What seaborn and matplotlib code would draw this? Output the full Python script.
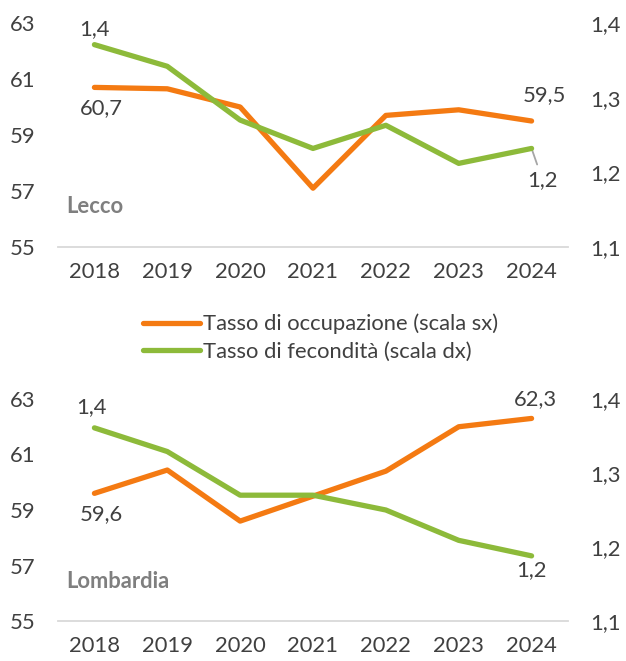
import numpy as np
import pandas as pd
import matplotlib
matplotlib.use("Agg")
import matplotlib.pyplot as plt
import seaborn as sns
from matplotlib.ticker import FuncFormatter, FixedLocator

# dati
anni = [2018, 2019, 2020, 2021, 2022, 2023, 2024]
occ_lecco = [60.7, 60.65, 60.0, 57.1, 59.7, 59.9, 59.5]
fec_lecco = [1.371, 1.342, 1.270, 1.232, 1.263, 1.212, 1.232]
occ_lomb = [59.6, 60.44, 58.6, 59.5, 60.4, 62.0, 62.3]
fec_lomb = [1.361, 1.329, 1.270, 1.270, 1.250, 1.209, 1.188]
etichette_sx = [55, 57, 59, 61, 63]
etichette_dx = [1.1, 1.2, 1.3, 1.4]
nomi_serie = ["Tasso di occupazione (scala sx)", "Tasso di fecondità (scala dx)"]

ARANCIO = "#F47A12"
VERDE = "#8DBA3A"
TESTO = "#404040"
GRIGIO_ASSE = "#D9D9D9"
FS = 15.8

sns.set_style("white")
plt.rcParams['font.family'] = ['Lato', 'DejaVu Sans']

fig = plt.figure(figsize=(6.26, 6.61), dpi=100)
W, H = 626, 661


def virgola(v, pos=None):
    if float(v).is_integer():
        return f"{int(v)}"
    return f"{v:.1f}".replace(".", ",")


def pannello(top_px, bot_px, occ, fec, nome, note):
    ax = fig.add_axes([58 / W, 1 - bot_px / H, 510 / W, (bot_px - top_px) / H])
    df = pd.DataFrame({"x": np.arange(len(anni)), "occ": occ, "fec": fec})
    sns.lineplot(data=df, x="x", y="occ", ax=ax, color=ARANCIO, lw=3.8,
                 solid_capstyle="round", label=nomi_serie[0], legend=False)
    ax.set_ylim(55, 63)
    ax.set_xlim(-0.5, 6.5)
    ax.set_yticks(etichette_sx)
    ax.set_xticks(np.arange(len(anni)))
    ax.set_xticklabels([str(a) for a in anni])
    ax.xaxis.set_minor_locator(FixedLocator(np.arange(-0.5, 7, 1)))
    ax.tick_params(axis="x", which="major", length=0, pad=11, labelsize=FS, labelcolor=TESTO)
    ax.tick_params(axis="x", which="minor", length=7, width=1.3, color=GRIGIO_ASSE, direction="out")
    ax.tick_params(axis="y", length=0, pad=16.5, labelsize=FS, labelcolor=TESTO)
    ax.set_xlabel("")
    ax.set_ylabel("")
    for s in ["top", "left", "right"]:
        ax.spines[s].set_visible(False)
    ax.spines["bottom"].set_color(GRIGIO_ASSE)
    ax.spines["bottom"].set_linewidth(1.3)

    ax2 = ax.twinx()
    sns.lineplot(data=df, x="x", y="fec", ax=ax2, color=VERDE, lw=3.8,
                 solid_capstyle="round", label=nomi_serie[1], legend=False)
    ax2.set_ylim(1.1, 1.4)
    ax2.set_yticks(etichette_dx)
    ax2.yaxis.set_major_formatter(FuncFormatter(virgola))
    ax2.tick_params(axis="y", length=0, pad=16, labelsize=FS, labelcolor=TESTO)
    ax2.set_ylabel("")
    for s in ax2.spines.values():
        s.set_visible(False)

    ax.text(0.016, 0.18, nome, transform=ax.transAxes, fontsize=FS, fontweight="bold",
            color="#7F7F7F", va="center", ha="left")

    # etichette dati
    for asse, serie, i, dx, dy, leader in note:
        a = ax if asse == "sx" else ax2
        v = serie[i]
        a.annotate(virgola(round(v, 1)), (i, v), xytext=(dx, dy), textcoords="offset points",
                   ha="center", va="center", fontsize=FS, color=TESTO, zorder=1,
                   arrowprops=dict(arrowstyle="-", color="#A6A6A6", lw=1.3, shrinkA=2, shrinkB=0) if leader else None)
    return ax, ax2


ax_a, ax_a2 = pannello(23, 247, occ_lecco, fec_lecco, "Lecco", [
    ("dx", fec_lecco, 0, 0, 11, False),
    ("sx", occ_lecco, 0, 5, -15, False),
    ("sx", occ_lecco, 6, 9, 19, False),
    ("dx", fec_lecco, 6, 8, -23, True),
])
ax_b, ax_b2 = pannello(399, 621, occ_lomb, fec_lomb, "Lombardia", [
    ("dx", fec_lomb, 0, -2, 15, False),
    ("sx", occ_lomb, 0, 5, -15, False),
    ("sx", occ_lomb, 6, 3, 14, False),
    ("dx", fec_lomb, 6, 0, -10, False),
])

h1, l1 = ax_a.get_legend_handles_labels()
h2, l2 = ax_a2.get_legend_handles_labels()
fig.legend(h1 + h2, l1 + l2, loc="center left", bbox_to_anchor=(143 / W, 1 - 338 / H),
           frameon=False, fontsize=FS, labelcolor=TESTO, handlelength=2.6, handletextpad=0.15,
           labelspacing=0.35, borderpad=0, borderaxespad=0)

fig.savefig("out.png", dpi=100)
